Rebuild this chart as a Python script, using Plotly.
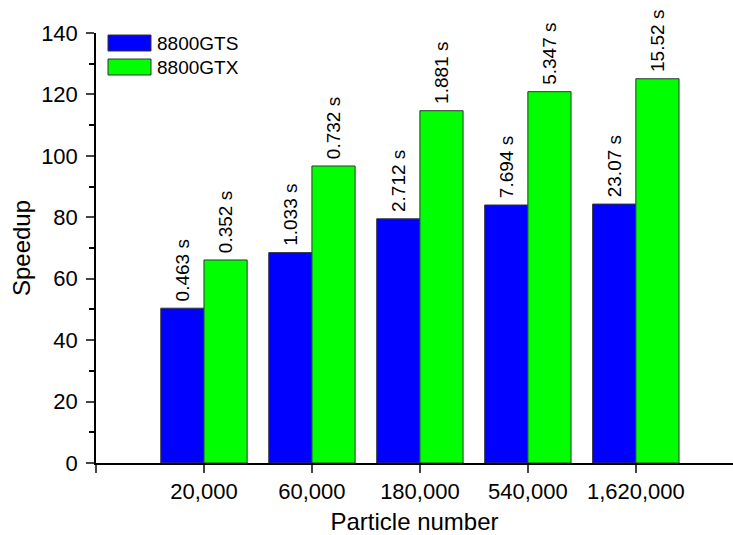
import plotly.graph_objects as go

categories = ["20,000", "60,000", "180,000", "540,000", "1,620,000"]
series_names = ["8800GTS", "8800GTX"]
gts_speedup = [50.4, 68.5, 79.5, 84.0, 84.3]
gtx_speedup = [66.1, 96.7, 114.7, 120.9, 125.1]
gts_time = ["0.463 s", "1.033 s", "2.712 s", "7.694 s", "23.07 s"]
gtx_time = ["0.352 s", "0.732 s", "1.881 s", "5.347 s", "15.52 s"]
colors = ["#0000FF", "#00FF00"]

FONT = "Arial, Liberation Sans, sans-serif"
W, H = 733, 535
ML, MT, MB, MR = 96, 33, 72, 0

idx = list(range(len(categories)))
fig = go.Figure()
for name, vals, times, col in [
    (series_names[0], gts_speedup, gts_time, colors[0]),
    (series_names[1], gtx_speedup, gtx_time, colors[1]),
]:
    fig.add_trace(go.Bar(
        x=idx, y=vals, name=name, text=["\u2009" + t for t in times],
        textposition="outside", textangle=-90, constraintext="none",
        textfont=dict(family=FONT, size=19, color="black"),
        marker=dict(color=col, line=dict(color="#333333", width=1)),
        cliponaxis=False, showlegend=False,
    ))

# manual legend (layout decoration)
pw = W - ML - MR
ph = H - MT - MB
def px_x(p):
    return (p - ML) / pw
def px_y(p):
    return (H - MB - p) / ph
for i, (name, col) in enumerate(zip(series_names, colors)):
    top = 35 + i * 24
    fig.add_shape(type="rect", xref="paper", yref="paper",
                  x0=px_x(108), x1=px_x(151), y0=px_y(top + 16), y1=px_y(top),
                  fillcolor=col, line=dict(color="#333333", width=1))
    fig.add_annotation(xref="paper", yref="paper", x=px_x(155), y=px_y(top + 8),
                       text=name, showarrow=False, xanchor="left", yanchor="middle",
                       font=dict(family=FONT, size=19, color="black"))

fig.update_layout(
    width=W, height=H, barmode="group", bargap=0.2, bargroupgap=0,
    plot_bgcolor="white", paper_bgcolor="white",
    margin=dict(l=ML, r=MR, t=MT, b=MB),
    font=dict(family=FONT, size=22, color="black"),
    xaxis=dict(
        range=[-1, 4.9], tickmode="array", tickvals=[-1] + idx,
        ticktext=[""] + categories, ticks="outside", ticklen=8, tickwidth=1.5,
        showline=True, linecolor="black", linewidth=1.5, showgrid=False,
        zeroline=False, tickfont=dict(size=22),
        title=dict(text="Particle number", font=dict(size=24), standoff=12),
    ),
    yaxis=dict(
        range=[0, 140], dtick=20, ticks="outside", ticklen=8, tickwidth=1.5,
        showline=True, linecolor="black", linewidth=1.5, showgrid=False,
        zeroline=False, tickfont=dict(size=22), ticklabelstandoff=4,
        minor=dict(dtick=10, ticks="outside", ticklen=5, tickwidth=1.5, tickcolor="black"),
        title=dict(text="Speedup", font=dict(size=24), standoff=4),
    ),
)
fig.write_html("out.html", config={"displayModeBar": False},
               post_script="document.body.style.margin='0';")
